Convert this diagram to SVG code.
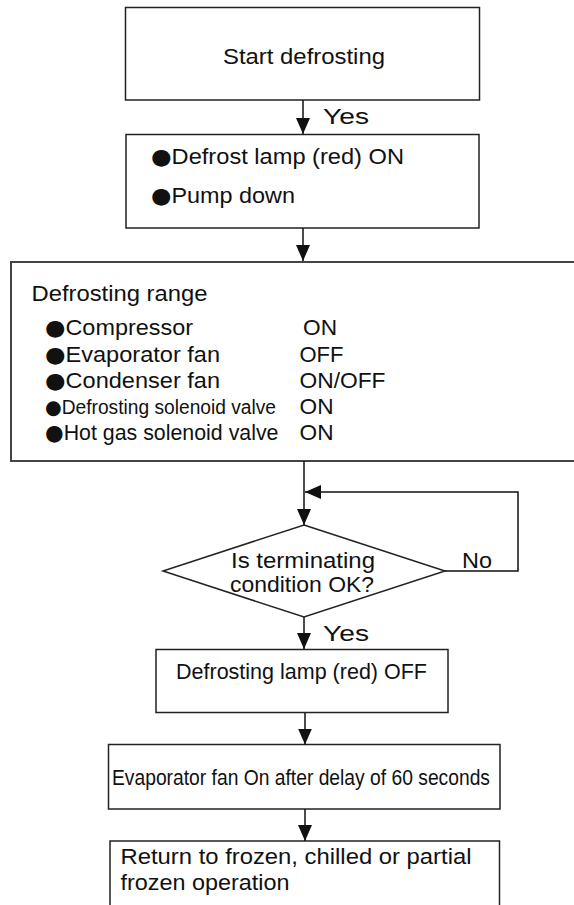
<svg xmlns="http://www.w3.org/2000/svg" width="574" height="905" viewBox="0 0 574 905">
<style>
  .box { fill: #ffffff; stroke: #222222; stroke-width: 1.5; }
  .box3 { fill: #ffffff; stroke: #444444; stroke-width: 2; }
  .t { font-family: "Liberation Sans", Arial, Helvetica, sans-serif; font-size: 22px; fill: #111111; }
  .s { font-size: 19.5px; }
  .b { font-family: "DejaVu Sans", sans-serif; }
  .c { fill: none; stroke: #111111; stroke-width: 1.5; }
</style>
<defs>
  <marker id="arr" markerUnits="userSpaceOnUse" markerWidth="16" markerHeight="14" viewBox="0 0 16 14" refX="16" refY="7" orient="auto">
    <path d="M0,0 L16,7 L0,14 z" fill="#111111"/>
  </marker>
</defs>
<rect x="0" y="0" width="574" height="905" fill="#ffffff"/>

<g id="start">
  <rect class="box" x="125.5" y="7.5" width="354" height="92.5"/>
  <text class="t" x="223" y="64" textLength="162" lengthAdjust="spacingAndGlyphs">Start defrosting</text>
</g>

<g id="lamp-on">
  <rect class="box" x="126" y="134.5" width="353" height="93.5"/>
  <text class="t" x="151" y="164" textLength="253" lengthAdjust="spacingAndGlyphs"><tspan class="b">●</tspan>Defrost lamp (red) ON</text>
  <text class="t" x="151" y="203" textLength="144" lengthAdjust="spacingAndGlyphs"><tspan class="b">●</tspan>Pump down</text>
</g>

<g id="range">
  <rect class="box3" x="11" y="262" width="570" height="199"/>
  <text class="t" x="31.5" y="301" textLength="176" lengthAdjust="spacingAndGlyphs">Defrosting range</text>
  <text class="t" x="45" y="335" textLength="148" lengthAdjust="spacingAndGlyphs"><tspan class="b">●</tspan>Compressor</text>
  <text class="t" x="303" y="335" textLength="34" lengthAdjust="spacingAndGlyphs">ON</text>
  <text class="t" x="45" y="361.5" textLength="175" lengthAdjust="spacingAndGlyphs"><tspan class="b">●</tspan>Evaporator fan</text>
  <text class="t" x="299.5" y="361.5" textLength="44" lengthAdjust="spacingAndGlyphs">OFF</text>
  <text class="t" x="45" y="388" textLength="175" lengthAdjust="spacingAndGlyphs"><tspan class="b">●</tspan>Condenser fan</text>
  <text class="t" x="299.5" y="388" textLength="86" lengthAdjust="spacingAndGlyphs">ON/OFF</text>
  <text class="t s" x="45" y="414" textLength="231" lengthAdjust="spacingAndGlyphs"><tspan class="b">●</tspan>Defrosting solenoid valve</text>
  <text class="t" x="299.5" y="414" textLength="34" lengthAdjust="spacingAndGlyphs">ON</text>
  <text class="t" x="45" y="440" textLength="233.5" lengthAdjust="spacingAndGlyphs"><tspan class="b">●</tspan>Hot gas solenoid valve</text>
  <text class="t" x="299.5" y="440" textLength="34" lengthAdjust="spacingAndGlyphs">ON</text>
</g>

<g id="decision">
  <polygon class="box" points="304,525 445,571 304,617 163,571"/>
  <text class="t" x="231" y="568" textLength="144" lengthAdjust="spacingAndGlyphs">Is terminating</text>
  <text class="t" x="230" y="592" textLength="144" lengthAdjust="spacingAndGlyphs">condition OK?</text>
</g>

<g id="lamp-off">
  <rect class="box" x="156" y="649.5" width="292" height="63"/>
  <text class="t" x="176" y="679" textLength="251" lengthAdjust="spacingAndGlyphs">Defrosting lamp (red) OFF</text>
</g>

<g id="fan-delay">
  <rect class="box" x="108.5" y="744.5" width="391.5" height="64.5"/>
  <text class="t" x="112" y="785" textLength="378" lengthAdjust="spacingAndGlyphs">Evaporator fan On after delay of 60 seconds</text>
</g>

<g id="return">
  <rect class="box" x="110" y="841" width="389.5" height="80"/>
  <text class="t" x="120.5" y="864" textLength="351" lengthAdjust="spacingAndGlyphs">Return to frozen, chilled or partial</text>
  <text class="t" x="120.5" y="890" textLength="169" lengthAdjust="spacingAndGlyphs">frozen operation</text>
</g>

<g id="connectors">
  <line class="c" x1="303" y1="100" x2="303" y2="134" marker-end="url(#arr)"/>
  <text class="t" x="323" y="124" textLength="46" lengthAdjust="spacingAndGlyphs">Yes</text>
  <line class="c" x1="303" y1="228" x2="303" y2="261" marker-end="url(#arr)"/>
  <line class="c" x1="304" y1="461" x2="304" y2="525" marker-end="url(#arr)"/>
  <polyline class="c" points="445,571 518,571 518,492 305,492" marker-end="url(#arr)"/>
  <text class="t" x="462" y="568" textLength="30" lengthAdjust="spacingAndGlyphs">No</text>
  <line class="c" x1="304" y1="617" x2="304" y2="649" marker-end="url(#arr)"/>
  <text class="t" x="323" y="641" textLength="46" lengthAdjust="spacingAndGlyphs">Yes</text>
  <line class="c" x1="305" y1="713" x2="305" y2="744.5" marker-end="url(#arr)"/>
  <line class="c" x1="305" y1="809" x2="305" y2="841" marker-end="url(#arr)"/>
</g>
</svg>
